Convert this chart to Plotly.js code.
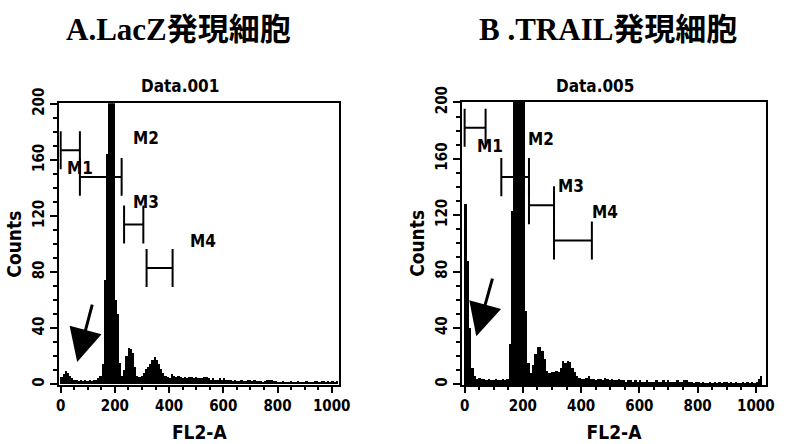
<!DOCTYPE html>
<html>
<head>
<meta charset="utf-8">
<script src="https://cdn.plot.ly/plotly-3.0.1.min.js"></script>
<style>
html,body{margin:0;padding:0;background:#fff;}
#chart{width:786px;height:444px;}
</style>
</head>
<body>
<div id="chart"></div>
<script>
// ---------- DATA ----------
// FL2-A channel histograms, bins of 8 channels starting at channel 0
const binWidth = 8;
const lacZCounts = [
  5,7,9,8,6,4,3,3,
  2,3,2,3,2,3,2,3,
  3,4,6,14,74,164,260,260,
  230,60,50,15,6,10,20,26,
  25,22,12,6,5,6,8,11,
  12,14,17,19,17,14,11,8,
  6,5,4,7,6,5,6,5,
  4,5,4,5,5,4,5,4,
  4,4,5,5,4,3,4,3,
  3,4,3,4,3,3,3,2,
  3,2,2,3,2,2,3,3,
  2,3,2,2,2,1,2,3,
  3,3,2,2,1,1,2,1,
  1,1,2,1,1,2,1,1,
  1,2,1,1,1,2,2,1,
  2,2,1,2,1,2,1,2
];
const trailCounts = [
  128,88,40,12,6,4,5,4,
  4,3,4,3,3,4,3,3,
  4,3,4,29,123,260,280,270,
  240,205,52,15,8,14,22,27,
  27,24,18,10,8,9,9,10,
  9,12,17,15,17,16,12,9,
  6,5,4,4,5,6,4,4,
  3,4,4,3,5,4,3,4,
  3,3,4,3,3,2,3,3,
  2,3,2,3,2,2,3,2,
  2,2,3,2,2,3,2,3,
  2,2,2,3,2,2,3,3,
  2,2,1,2,2,1,2,1,
  1,2,1,2,1,2,1,2,
  2,1,2,1,2,1,1,2,
  1,2,1,2,1,2,4,6
];
// Marker gates (channel ranges) and the count level where each bar is drawn
const gateNames = ["M1","M2","M3","M4"];
const lacZGateStart = [0, 71, 234, 317];
const lacZGateEnd   = [71, 225, 305, 413];
const lacZGateLevel = [167, 148, 114, 83];
const trailGateStart = [0, 126, 221, 307];
const trailGateEnd   = [72, 221, 307, 437];
const trailGateLevel = [182, 147, 127, 102];
const panelTitles = ["A.LacZ発現細胞", "B .TRAIL発現細胞"];
const fileNames = ["Data.001", "Data.005"];
const xTitle = "FL2-A";
const yTitle = "Counts";

// ---------- LAYOUT HELPERS ----------
const W = 786, H = 444;
const px = v => v / W;
const py = v => 1 - v / H;
const capHalf = 13.5;
const fam = '"DejaVu Sans Condensed", "DejaVu Sans", sans-serif';
const tickFont = {family: fam, size: 15, weight: "bold", color: "#000"};
const labelFont = {family: fam, size: 17, weight: "bold", color: "#000"};
const axisTitleFont = {family: fam, size: 19, weight: "bold", color: "#000"};

const panels = [
  {counts: lacZCounts, gs: lacZGateStart, ge: lacZGateEnd, gl: lacZGateLevel,
   xa: "x", ya: "y",
   labelPos: [[71,154],[314,176],[314,130],[525,102]],
   arrow: {tip:[61,16], tail:[118,58]}},
  {counts: trailCounts, gs: trailGateStart, ge: trailGateEnd, gl: trailGateLevel,
   xa: "x2", ya: "y2",
   labelPos: [[86,169],[263,174],[366,141],[483,122]],
   arrow: {tip:[40,34], tail:[97,76]}}
];

const traces = [];
const shapes = [];
const annotations = [];

panels.forEach((p, k) => {
  traces.push({
    type: "bar",
    y: p.counts,
    x0: binWidth / 2,
    dx: binWidth,
    width: binWidth,
    xaxis: p.xa, yaxis: p.ya,
    marker: {color: "#000", line: {width: 0}},
    hoverinfo: "skip",
    showlegend: false
  });
  for (let i = 0; i < gateNames.length; i++) {
    const ln = {color: "#000", width: 2};
    shapes.push({type:"line", xref:p.xa, yref:p.ya, x0:p.gs[i], x1:p.ge[i], y0:p.gl[i], y1:p.gl[i], line:ln});
    shapes.push({type:"line", xref:p.xa, yref:p.ya, x0:p.gs[i], x1:p.gs[i], y0:p.gl[i]-capHalf, y1:p.gl[i]+capHalf, line:ln});
    shapes.push({type:"line", xref:p.xa, yref:p.ya, x0:p.ge[i], x1:p.ge[i], y0:p.gl[i]-capHalf, y1:p.gl[i]+capHalf, line:ln});
    annotations.push({xref:p.xa, yref:p.ya, x:p.labelPos[i][0], y:p.labelPos[i][1],
      text: gateNames[i], showarrow:false, font: labelFont, xanchor:"center", yanchor:"middle"});
  }
  annotations.push({xref:p.xa, yref:p.ya, axref:p.xa, ayref:p.ya,
    x:p.arrow.tip[0], y:p.arrow.tip[1], ax:p.arrow.tail[0], ay:p.arrow.tail[1],
    text:"", showarrow:true, arrowhead:2, arrowsize:2.2, arrowwidth:3, arrowcolor:"#000"});
});

// panel titles and file names
const titleFont = {family:'"Liberation Serif", "Noto Sans CJK JP", serif', size:31, weight:"bold", color:"#000"};
annotations.push({xref:"paper", yref:"paper", x:px(178.5), y:py(29.5), text:panelTitles[0], showarrow:false,
  xanchor:"center", yanchor:"middle", font:titleFont});
annotations.push({xref:"paper", yref:"paper", x:px(608), y:py(29.5), text:panelTitles[1], showarrow:false,
  xanchor:"center", yanchor:"middle", font:titleFont});
annotations.push({xref:"paper", yref:"paper", x:px(180), y:py(86), text:fileNames[0], showarrow:false,
  xanchor:"center", yanchor:"middle", font:{family: fam, size:17, weight:"bold", color:"#000"}});
annotations.push({xref:"paper", yref:"paper", x:px(595), y:py(86), text:fileNames[1], showarrow:false,
  xanchor:"center", yanchor:"middle", font:{family: fam, size:17, weight:"bold", color:"#000"}});

function xAxis(dom, rng, anchor) {
  return {
    domain: dom, range: rng, anchor: anchor,
    tick0: 0, dtick: 200, ticks: "outside", ticklen: 6, tickwidth: 2, tickcolor: "#000",
    minor: {dtick: 50, tick0: 0, ticks: "outside", ticklen: 3, tickwidth: 2, tickcolor: "#000", showgrid: false},
    showline: true, linewidth: 2, linecolor: "#000", mirror: true,
    showgrid: false, zeroline: false, tickfont: tickFont,
    title: {text: xTitle, font: axisTitleFont, standoff: 12},
    fixedrange: true
  };
}
function yAxis(dom, anchor) {
  return {
    domain: dom, range: [-0.5, 200.5], anchor: anchor,
    tick0: 0, dtick: 40, ticks: "outside", ticklen: 7, tickwidth: 2, tickcolor: "#000",
    minor: {dtick: 10, tick0: 0, ticks: "outside", ticklen: 4, tickwidth: 2, tickcolor: "#000", showgrid: false},
    showline: true, linewidth: 2, linecolor: "#000", mirror: true,
    showgrid: false, zeroline: false, tickfont: tickFont, tickangle: -90,
    title: {text: yTitle, font: axisTitleFont, standoff: 4},
    fixedrange: true
  };
}

const layout = {
  width: W, height: H,
  margin: {l: 0, r: 0, t: 0, b: 0},
  paper_bgcolor: "#fff", plot_bgcolor: "#fff",
  bargap: 0,
  showlegend: false,
  xaxis: xAxis([px(59.3), px(339.3)], [-5, 1028], "y"),
  yaxis: yAxis([py(385), py(103.3)], "x"),
  xaxis2: xAxis([px(462.3), px(765.7)], [-8, 1034], "y2"),
  yaxis2: yAxis([py(385), py(101.7)], "x2"),
  shapes: shapes,
  annotations: annotations
};

Plotly.newPlot("chart", traces, layout, {displayModeBar: false, responsive: false});
</script>
</body>
</html>
